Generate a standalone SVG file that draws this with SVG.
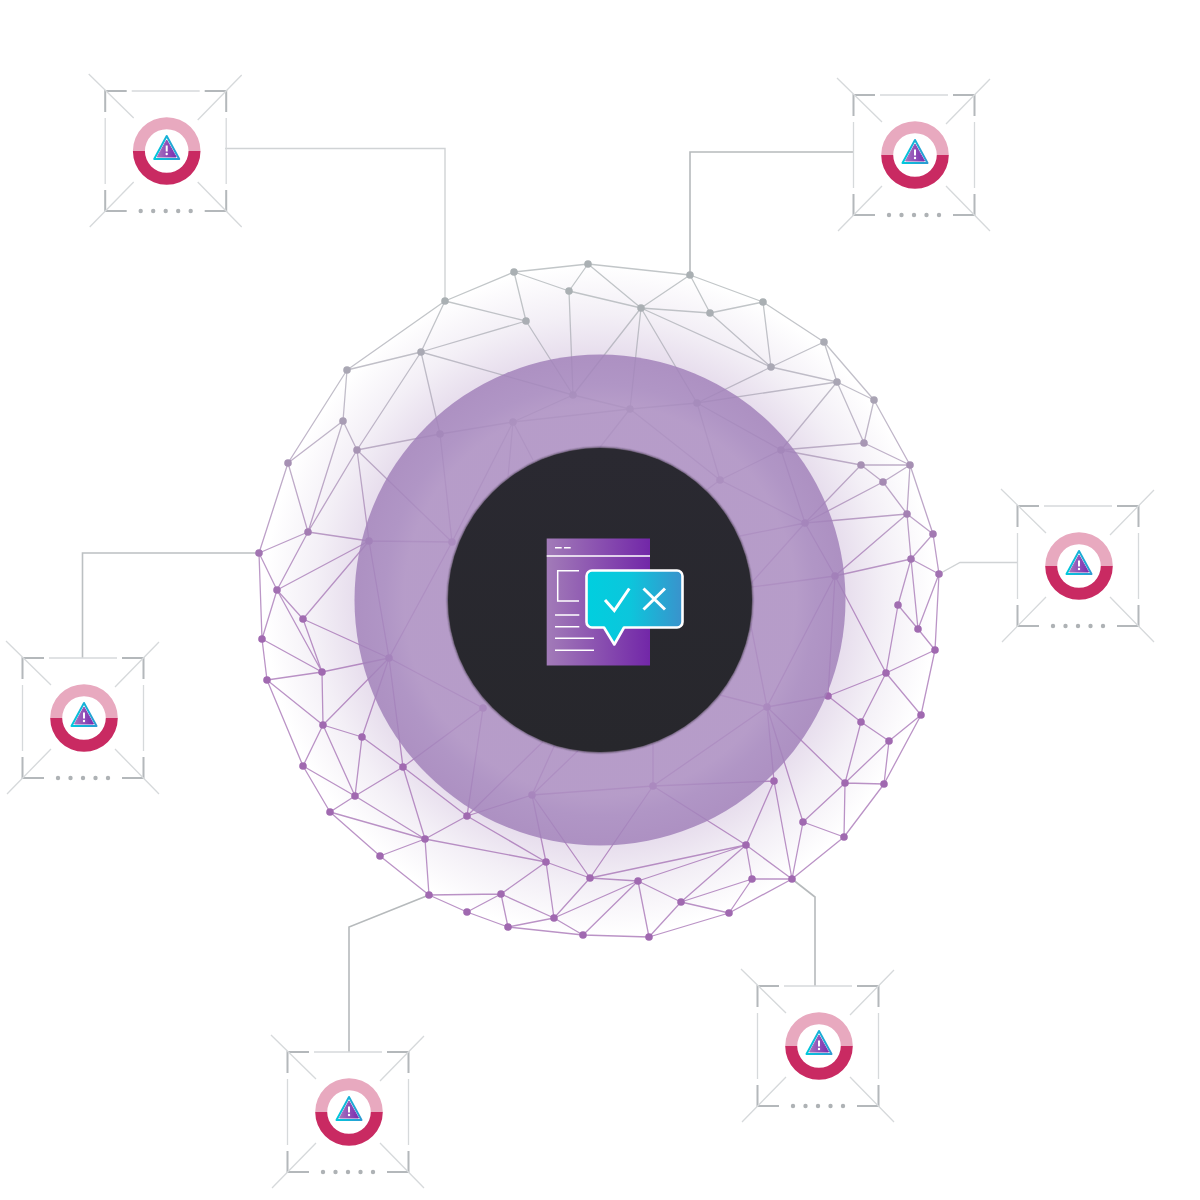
<svg xmlns="http://www.w3.org/2000/svg" width="1200" height="1200" viewBox="0 0 1200 1200">
<style>
.conn{fill:none;stroke:#b6babc;stroke-width:1.6}
.conn.lt{stroke:#d0d3d5;stroke-width:1.4}
.edge{fill:none;stroke:url(#meshG);stroke-width:1.3;stroke-opacity:.72}
.pt{fill:url(#meshG)}
.br{fill:none;stroke:#b4b8bb;stroke-width:2}
.th{fill:none;stroke:#d6d9db;stroke-width:1.3}
.dot{fill:#aeb2b5}
.w{fill:none;stroke:#fff;stroke-width:1.5}
</style>
<defs>
<linearGradient id="meshG" gradientUnits="userSpaceOnUse" x1="0" y1="300" x2="0" y2="640">
<stop offset="0" stop-color="#aab0b3"/><stop offset=".3" stop-color="#a9a3b4"/><stop offset=".75" stop-color="#a274b2"/><stop offset="1" stop-color="#a069b0"/>
</linearGradient>
<radialGradient id="halo" gradientUnits="userSpaceOnUse" cx="600" cy="600" r="335">
<stop offset=".72" stop-color="#e6dcec"/><stop offset=".85" stop-color="#f3eff6"/><stop offset="1" stop-color="#fff"/>
</radialGradient>
<radialGradient id="disc" gradientUnits="userSpaceOnUse" cx="600" cy="600" r="245">
<stop offset=".8" stop-color="#ad90c2"/><stop offset=".88" stop-color="#a688be"/><stop offset="1" stop-color="#a282ba"/>
</radialGradient>
<linearGradient id="core" x1="0" y1="0" x2="0" y2="1">
<stop offset="0" stop-color="#2a2931"/><stop offset="1" stop-color="#27272c"/>
</linearGradient>
<linearGradient id="doc" x1="0" y1="0" x2="1" y2="0">
<stop offset="0" stop-color="#a27bb8"/><stop offset="1" stop-color="#7227a8"/>
</linearGradient>
<linearGradient id="bub" x1="0" y1="0" x2="1" y2="0">
<stop offset="0" stop-color="#00cfdf"/><stop offset=".45" stop-color="#0cc6dc"/><stop offset="1" stop-color="#3a92cc"/>
</linearGradient>
<linearGradient id="tri" x1="0" y1="0" x2="1" y2="0">
<stop offset="0" stop-color="#00c8dc"/><stop offset="1" stop-color="#2e9ad2"/>
</linearGradient>
<linearGradient id="triIn" x1="0" y1="0" x2="1" y2="0">
<stop offset="0" stop-color="#a673bd"/><stop offset="1" stop-color="#7a2cb0"/>
</linearGradient>
<filter id="blur" x="-20%" y="-20%" width="140%" height="140%"><feGaussianBlur stdDeviation="1"/></filter>
<g id="unit">
<path class="br" d="M-61.500-39V-60H-40M38-60H59.500V-39M-61.500 39V60H-40M38 60H59.500V39"/>
<path class="th" d="M-35-60H33M-61.500-33V33M59.500-33V33M-78-77L-33-33M75-76L31-31M-77 76L-33 31M75 76L31 31"/>
<circle class="dot" cx="-26" cy="60" r="2.200"/><circle class="dot" cx="-13.500" cy="60" r="2.200"/><circle class="dot" cx="-1" cy="60" r="2.200"/><circle class="dot" cx="11.500" cy="60" r="2.200"/><circle class="dot" cx="24" cy="60" r="2.200"/>
<path fill="#e8a9bf" d="M-33.800 0A33.800 33.800 0 0 1 33.800 0H21.800A21.800 21.800 0 0 0-21.800 0Z"/>
<path fill="#c92a62" d="M-33.800 0A33.800 33.800 0 0 0 33.800 0H21.800A21.800 21.800 0 0 1-21.800 0Z"/>
<path d="M0-15L12.500 8H-12.500Z" fill="#fff" stroke="url(#tri)" stroke-width="2" stroke-linejoin="round"/>
<path d="M0-11L9.500 6H-9.500Z" fill="url(#triIn)" stroke="url(#triIn)" stroke-linejoin="round"/>
<rect x="-1" y="-5.500" width="2" height="6" fill="#fff"/><circle cx="0" cy="3" r="1.200" fill="#fff"/>
</g>
</defs>
<rect width="1200" height="1200" fill="#fff"/>
<g id="connectors">
<path class="conn lt" d="M225 148.500H445V301"/>
<path class="conn" d="M854 152H690V275"/>
<path class="conn lt" d="M1018 562.500H960L939 574"/>
<path class="conn" d="M259 553H82.500V658" style="stroke:#bcc0c2"/>
<path class="conn" d="M429 895L349 927V1052"/>
<path class="conn" d="M792 879L815 897V986"/>
</g>
<g id="mesh">
<circle cx="600" cy="600" r="335" fill="url(#halo)"/>
<path class="edge" d="M514 272L588 264M588 264L569 291M514 272L569 291M514 272L526 321M514 272L445 301M445 301L526 321M445 301L421 352M526 321L421 352M421 352L347 370M445 301L347 370M347 370L343 421M347 370L288 463M343 421L288 463M343 421L357 450M421 352L357 450M421 352L440 434M421 352L573 395M526 321L573 395M569 291L573 395M357 450L440 434M440 434L513 422M440 434L452 542M513 422L452 542M357 450L452 542M357 450L369 541M357 450L308 532M343 421L308 532M288 463L308 532M288 463L259 553M308 532L259 553M308 532L369 541M308 532L277 590M369 541L277 590M369 541L452 542M573 395L513 422M513 422L533 460M513 422L508 477M259 553L277 590M513 422L630 409M573 395L630 409M573 395L641 308M569 291L641 308M588 264L641 308"/>
<path class="edge" d="M588 264L690 275M690 275L641 308M690 275L710 313M690 275L763 302M641 308L710 313M710 313L763 302M710 313L771 367M641 308L771 367M763 302L771 367M763 302L824 342M771 367L824 342M771 367L837 382M824 342L837 382M824 342L874 400M837 382L874 400M837 382L864 443M837 382L781 450M837 382L697 403M771 367L697 403M641 308L697 403M641 308L630 409M697 403L630 409M697 403L781 450M697 403L720 480M630 409L720 480M781 450L720 480M781 450L805 523M781 450L864 443M781 450L861 465M874 400L864 443M874 400L910 465M864 443L910 465M861 465L910 465M861 465L883 482M910 465L883 482M883 482L907 514M910 465L907 514M910 465L933 534M907 514L933 534M861 465L805 523M883 482L805 523M907 514L805 523M907 514L835 576M907 514L911 559M933 534L911 559M933 534L939 574M911 559L939 574M911 559L835 576M805 523L835 576M720 480L805 523M805 523L740 536M805 523L700 640M835 576L700 594M720 480L700 495M630 409L590 460"/>
<path class="edge" d="M259 553L262 639M277 590L262 639M277 590L303 619M277 590L322 672M303 619L322 672M303 619L389 658M369 541L303 619M369 541L389 658M452 542L389 658M389 658L322 672M262 639L322 672M262 639L267 680M267 680L322 672M322 672L323 725M267 680L323 725M267 680L303 766M323 725L389 658M389 658L362 737M323 725L362 737M323 725L303 766M323 725L355 796M303 766L355 796M303 766L330 812M362 737L355 796M362 737L403 767M403 767L355 796M389 658L403 767M389 658L483 708M483 708L403 767M483 708L467 816M403 767L425 839M403 767L467 816M355 796L330 812M355 796L425 839M330 812L425 839M330 812L380 856M380 856L425 839M380 856L429 895M425 839L429 895M425 839L467 816M425 839L546 862M467 816L546 862M467 816L532 795M467 816L560 725M532 795L575 700M532 795L610 720M532 795L546 862M532 795L590 878M546 862L590 878M546 862L501 894M546 862L554 918M429 895L501 894M429 895L467 912M501 894L467 912M501 894L508 927M501 894L554 918M467 912L508 927M508 927L554 918M554 918L590 878M554 918L583 935M508 927L583 935"/>
<path class="edge" d="M835 576L767 707M835 576L828 696M835 576L886 673M911 559L898 605M911 559L918 629M939 574L918 629M939 574L935 650M898 605L918 629M918 629L935 650M898 605L886 673M886 673L935 650M886 673L828 696M886 673L861 722M886 673L921 715M935 650L921 715M828 696L767 707M828 696L861 722M861 722L889 741M921 715L889 741M861 722L845 783M889 741L845 783M889 741L884 784M845 783L884 784M921 715L884 784M845 783L803 822M845 783L844 837M803 822L844 837M884 784L844 837M767 707L845 783M767 707L774 781M774 781L792 879M767 707L803 822M803 822L792 879M844 837L792 879M746 845L792 879M746 845L774 781M746 845L653 786M746 845L752 879M746 845L681 902M746 845L638 881M746 845L590 878M752 879L792 879M752 879L681 902M752 879L729 913M792 879L729 913M681 902L729 913M681 902L638 881M681 902L649 937M638 881L649 937M729 913L649 937M649 937L583 935M638 881L554 918M638 881L583 935M590 878L638 881M653 786L774 781M653 786L767 707M653 786L532 795M653 786L653 700M653 786L590 878M767 707L700 690M767 707L740 570"/>
<g id="mesh-points">
<circle class="pt" cx="514" cy="272" r="3.800"/><circle class="pt" cx="588" cy="264" r="3.800"/><circle class="pt" cx="569" cy="291" r="3.800"/><circle class="pt" cx="445" cy="301" r="3.800"/><circle class="pt" cx="526" cy="321" r="3.800"/><circle class="pt" cx="421" cy="352" r="3.800"/><circle class="pt" cx="347" cy="370" r="3.800"/><circle class="pt" cx="573" cy="395" r="3.800"/><circle class="pt" cx="513" cy="422" r="3.800"/><circle class="pt" cx="440" cy="434" r="3.800"/><circle class="pt" cx="343" cy="421" r="3.800"/><circle class="pt" cx="357" cy="450" r="3.800"/><circle class="pt" cx="288" cy="463" r="3.800"/><circle class="pt" cx="308" cy="532" r="3.800"/><circle class="pt" cx="369" cy="541" r="3.800"/><circle class="pt" cx="452" cy="542" r="3.800"/><circle class="pt" cx="259" cy="553" r="3.800"/><circle class="pt" cx="277" cy="590" r="3.800"/>
<circle class="pt" cx="690" cy="275" r="3.800"/><circle class="pt" cx="641" cy="308" r="3.800"/><circle class="pt" cx="710" cy="313" r="3.800"/><circle class="pt" cx="763" cy="302" r="3.800"/><circle class="pt" cx="771" cy="367" r="3.800"/><circle class="pt" cx="824" cy="342" r="3.800"/><circle class="pt" cx="837" cy="382" r="3.800"/><circle class="pt" cx="874" cy="400" r="3.800"/><circle class="pt" cx="697" cy="403" r="3.800"/><circle class="pt" cx="630" cy="409" r="3.800"/><circle class="pt" cx="864" cy="443" r="3.800"/><circle class="pt" cx="910" cy="465" r="3.800"/><circle class="pt" cx="861" cy="465" r="3.800"/><circle class="pt" cx="883" cy="482" r="3.800"/><circle class="pt" cx="781" cy="450" r="3.800"/><circle class="pt" cx="720" cy="480" r="3.800"/><circle class="pt" cx="907" cy="514" r="3.800"/><circle class="pt" cx="805" cy="523" r="3.800"/><circle class="pt" cx="933" cy="534" r="3.800"/><circle class="pt" cx="911" cy="559" r="3.800"/><circle class="pt" cx="939" cy="574" r="3.800"/><circle class="pt" cx="835" cy="576" r="3.800"/>
<circle class="pt" cx="303" cy="619" r="3.800"/><circle class="pt" cx="262" cy="639" r="3.800"/><circle class="pt" cx="322" cy="672" r="3.800"/><circle class="pt" cx="389" cy="658" r="3.800"/><circle class="pt" cx="267" cy="680" r="3.800"/><circle class="pt" cx="323" cy="725" r="3.800"/><circle class="pt" cx="362" cy="737" r="3.800"/><circle class="pt" cx="403" cy="767" r="3.800"/><circle class="pt" cx="303" cy="766" r="3.800"/><circle class="pt" cx="355" cy="796" r="3.800"/><circle class="pt" cx="483" cy="708" r="3.800"/><circle class="pt" cx="330" cy="812" r="3.800"/><circle class="pt" cx="467" cy="816" r="3.800"/><circle class="pt" cx="425" cy="839" r="3.800"/><circle class="pt" cx="532" cy="795" r="3.800"/><circle class="pt" cx="380" cy="856" r="3.800"/><circle class="pt" cx="546" cy="862" r="3.800"/><circle class="pt" cx="590" cy="878" r="3.800"/><circle class="pt" cx="429" cy="895" r="3.800"/><circle class="pt" cx="501" cy="894" r="3.800"/><circle class="pt" cx="467" cy="912" r="3.800"/><circle class="pt" cx="554" cy="918" r="3.800"/><circle class="pt" cx="508" cy="927" r="3.800"/><circle class="pt" cx="583" cy="935" r="3.800"/>
<circle class="pt" cx="898" cy="605" r="3.800"/><circle class="pt" cx="918" cy="629" r="3.800"/><circle class="pt" cx="935" cy="650" r="3.800"/><circle class="pt" cx="886" cy="673" r="3.800"/><circle class="pt" cx="828" cy="696" r="3.800"/><circle class="pt" cx="767" cy="707" r="3.800"/><circle class="pt" cx="921" cy="715" r="3.800"/><circle class="pt" cx="861" cy="722" r="3.800"/><circle class="pt" cx="889" cy="741" r="3.800"/><circle class="pt" cx="845" cy="783" r="3.800"/><circle class="pt" cx="884" cy="784" r="3.800"/><circle class="pt" cx="774" cy="781" r="3.800"/><circle class="pt" cx="653" cy="786" r="3.800"/><circle class="pt" cx="803" cy="822" r="3.800"/><circle class="pt" cx="844" cy="837" r="3.800"/><circle class="pt" cx="746" cy="845" r="3.800"/><circle class="pt" cx="792" cy="879" r="3.800"/><circle class="pt" cx="752" cy="879" r="3.800"/><circle class="pt" cx="638" cy="881" r="3.800"/><circle class="pt" cx="681" cy="902" r="3.800"/><circle class="pt" cx="729" cy="913" r="3.800"/><circle class="pt" cx="649" cy="937" r="3.800"/>
</g>
</g>
<circle id="disc-ring" cx="600" cy="600" r="245.500" fill="url(#disc)" fill-opacity=".84"/>
<g id="core-node">
<circle cx="600" cy="600" r="152.500" fill="#1a1a1e" opacity=".85" filter="url(#blur)"/>
<circle cx="600" cy="600" r="152" fill="url(#core)"/>
<rect x="546.700" y="538.500" width="103.300" height="127" fill="url(#doc)"/>
<path class="w" d="M546.700 556H650M555 547.700H561.700M564 547.700H570.700M579 570.700H557.700V601H579M555 615H579.300M555 626.700H579.300M555 638.300H594M555 650.300H594"/>
<path d="M592 570.500H677A5.500 5.500 0 0 1 682.500 576V622A5.500 5.500 0 0 1 677 627.500H624L614.300 644.500L604 627.500H592A5.500 5.500 0 0 1 586.500 622V576A5.500 5.500 0 0 1 592 570.500Z" fill="url(#bub)" stroke="#fff" stroke-width="2.600" stroke-linejoin="round"/>
<path d="M605 600L614.300 610.500L629.300 588.500M643.500 588.500L665 609.500M665 588.500L643.500 609.500" fill="none" stroke="#fff" stroke-width="3"/>
</g>
<g id="unit-top-left"><use href="#unit" x="166.700" y="151"/></g>
<g id="unit-top-right"><use href="#unit" x="915" y="155"/></g>
<g id="unit-right"><use href="#unit" x="1079" y="566"/></g>
<g id="unit-left"><use href="#unit" x="84" y="718"/></g>
<g id="unit-bottom-left"><use href="#unit" x="349" y="1112"/></g>
<g id="unit-bottom-right"><use href="#unit" x="819" y="1046"/></g>
</svg>
